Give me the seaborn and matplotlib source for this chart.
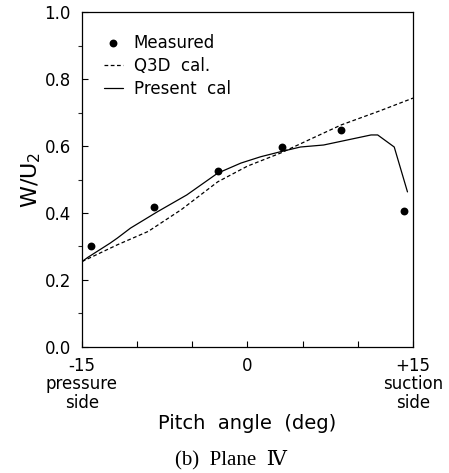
import matplotlib
matplotlib.use('Agg')
import matplotlib.pyplot as plt
import seaborn as sns
import pandas as pd

# Measured points
meas_x = [-14.2, -8.5, -2.7, 3.1, 8.5, 14.2]
meas_y = [0.300, 0.418, 0.525, 0.597, 0.648, 0.406]

# Q3D calculation (dashed)
q3d_x = [-15, -11.8, -9.0, -6.0, -2.7, 0.0, 3.0, 6.0, 8.5, 12.0, 15.0]
q3d_y = [0.255, 0.305, 0.345, 0.410, 0.493, 0.540, 0.579, 0.625, 0.663, 0.705, 0.743]

# Present calculation (solid)
pres_x = [-15, -14.45, -12.45, -11.8, -10.6, -8.2, -5.5, -2.7, -0.6, 1.2, 3.0, 4.8, 6.9, 11.2, 11.8, 13.3, 14.5]
pres_y = [0.255, 0.268, 0.310, 0.325, 0.355, 0.403, 0.454, 0.519, 0.549, 0.568, 0.583, 0.597, 0.603, 0.633, 0.633, 0.597, 0.463]

x_ticks = [-15, -10, -5, 0, 5, 10, 15]
x_labels = ['-15\npressure\nside', '', '', '0', '', '', '+15\nsuction\nside']
y_ticks = [0.0, 0.2, 0.4, 0.6, 0.8, 1.0]
y_minor = [0.1, 0.3, 0.5, 0.7, 0.9]

sns.set_style('ticks')
plt.rcParams['font.family'] = ['DejaVu Sans']
plt.rcParams['xtick.direction'] = 'in'
plt.rcParams['ytick.direction'] = 'in'
plt.rcParams['text.color'] = 'black'
plt.rcParams['axes.labelcolor'] = 'black'
plt.rcParams['xtick.labelcolor'] = 'black'
plt.rcParams['ytick.labelcolor'] = 'black'

fig = plt.figure(figsize=(4.49, 4.73), dpi=100)
ax = fig.add_axes([0.1826, 0.2664, 0.7372, 0.7082])

df_m = pd.DataFrame({'x': meas_x, 'y': meas_y})
df_q = pd.DataFrame({'x': q3d_x, 'y': q3d_y})
df_p = pd.DataFrame({'x': pres_x, 'y': pres_y})

sns.scatterplot(data=df_m, x='x', y='y', ax=ax, color='black', s=32,
                edgecolor='black', linewidth=0, label='Measured', zorder=3)
sns.lineplot(data=df_q, x='x', y='y', ax=ax, color='black', lw=0.9,
             linestyle=(0, (3, 2)), label='Q3D  cal.', sort=False)
sns.lineplot(data=df_p, x='x', y='y', ax=ax, color='black', lw=0.9,
             label='Present  cal', sort=False)

ax.set_xlim(-15, 15)
ax.set_ylim(0, 1.0)
ax.set_xticks(x_ticks)
ax.set_xticklabels(x_labels, fontsize=12, linespacing=1.05)
ax.set_yticks(y_ticks)
ax.set_yticklabels([f'{v:.1f}' for v in y_ticks], fontsize=12)
ax.set_yticks(y_minor, minor=True)
ax.tick_params(axis='both', which='major', length=4, width=0.8, color='black')
ax.tick_params(axis='y', which='minor', length=3, width=0.8, direction='out')
ax.tick_params(axis='x', which='major', pad=7)
ax.tick_params(axis='y', which='major', pad=8)
for sp in ax.spines.values():
    sp.set_color('black')
    sp.set_linewidth(0.9)

ax.set_xlabel('Pitch  angle  (deg)', fontsize=14, labelpad=1)
ax.set_ylabel('W/U$_2$', fontsize=16, labelpad=1)

ax.legend(loc='upper left', bbox_to_anchor=(0.045, 0.955), frameon=False,
          fontsize=12, handlelength=1.15, handletextpad=0.65, labelspacing=0.3,
          borderaxespad=0)

fig.text(0.515, 0.028, '(b)  Plane  Ⅳ', ha='center', va='center', fontsize=15,
         family=['Liberation Serif', 'DejaVu Serif'])

fig.savefig('out.png', dpi=100)
